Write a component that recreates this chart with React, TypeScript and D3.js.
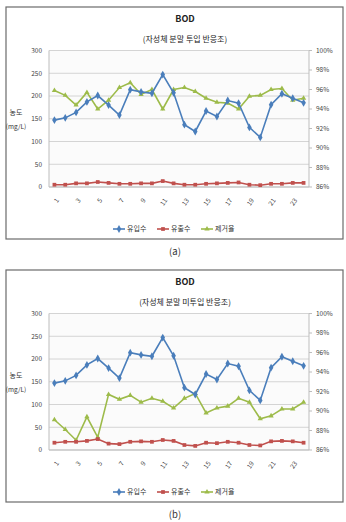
import React, { useEffect, useRef } from 'react';
import * as d3 from 'd3';

// categories (days) and series values
const categories = ['1', '2', '3', '4', '5', '6', '7', '8', '9', '10', '11', '12',
  '13', '14', '15', '16', '17', '18', '19', '20', '21', '22', '23', '24'];
const tickLabels = ['1', '3', '5', '7', '9', '11', '13', '15', '17', '19', '21', '23'];

const influent = [147, 152, 164, 187, 201, 180, 158, 214, 209, 206, 247, 207,
  137, 122, 167, 155, 190, 184, 131, 109, 181, 205, 195, 185];

const effluentA = [5, 5, 8, 8, 11, 9, 7, 7, 8, 8, 13, 8, 5, 5, 7, 8, 9, 10, 5, 4, 7, 7, 9, 9];
const removalA = [95.9, 95.4, 94.4, 95.7, 94.0, 94.9, 96.2, 96.7, 95.5, 96.0, 94.0, 96.0,
  96.2, 95.8, 95.1, 94.7, 94.6, 94.0, 95.3, 95.4, 96.0, 96.1, 94.9, 95.1];

const effluentB = [16, 18, 18, 20, 24, 14, 13, 18, 19, 18, 22, 20, 11, 9, 16, 15, 18, 16, 11, 10, 19, 20, 19, 16];
const removalB = [89.1, 88.1, 87.0, 89.4, 87.3, 91.7, 91.2, 91.6, 90.9, 91.3, 91.0, 90.3,
  91.3, 91.8, 89.8, 90.3, 90.5, 91.3, 90.9, 89.2, 89.5, 90.2, 90.2, 90.9];

const leftTicks = [0, 50, 100, 150, 200, 250, 300];
const rightTicks = [86, 88, 90, 92, 94, 96, 98, 100];

const seriesNames = ['유입수', '유출수', '제거율'];
const COLORS = ['#4a7ebb', '#c0504d', '#9dbb4a'];

const WIDTH = 346;
const HEIGHT = 522;
const FONT = '"Noto Sans CJK KR", "Noto Sans", sans-serif';

interface Panel {
  top: number;
  subtitle: string;
  caption: string;
  effluent: number[];
  removal: number[];
}

const panels: Panel[] = [
  { top: 7, subtitle: '(자성체 분말 투입 반응조)', caption: '(a)', effluent: effluentA, removal: removalA },
  { top: 270, subtitle: '(자성체 분말 미투입 반응조)', caption: '(b)', effluent: effluentB, removal: removalB },
];

const BOX = { left: 6, right: 343, height: 232 };
const PLOT = { left: 49, right: 309, top: 43.5, bottom: 180 };

const App: React.FC = () => {
  const svgRef = useRef<SVGSVGElement>(null);

  useEffect(() => {
    const svg = d3.select(svgRef.current);
    svg.selectAll('*').remove();

    panels.forEach(p => {
      const g = svg.append('g').attr('transform', `translate(0,${p.top})`);

      // frame
      g.append('rect')
        .attr('x', BOX.left)
        .attr('y', 0)
        .attr('width', BOX.right - BOX.left)
        .attr('height', BOX.height)
        .attr('fill', 'white')
        .attr('stroke', '#6b6b6b')
        .attr('stroke-width', 1.2);

      // titles
      g.append('text')
        .attr('x', 185).attr('y', 15)
        .attr('text-anchor', 'middle')
        .style('font-family', FONT)
        .style('font-size', '9px')
        .style('font-weight', 'bold')
        .style('fill', '#222')
        .text('BOD');

      g.append('text')
        .attr('x', 185).attr('y', 34.5)
        .attr('text-anchor', 'middle')
        .style('font-family', FONT)
        .style('font-size', '8px')
        .style('fill', '#222')
        .text(p.subtitle);

      const x = d3.scaleBand<string>().domain(categories).range([PLOT.left, PLOT.right]);
      const cx = (d: string) => x(d)! + x.bandwidth() / 2;
      const yL = d3.scaleLinear().domain([0, 300]).range([PLOT.bottom, PLOT.top]);
      const yR = d3.scaleLinear().domain([86, 100]).range([PLOT.bottom, PLOT.top]);

      // plot area
      g.append('rect')
        .attr('x', PLOT.left).attr('y', PLOT.top)
        .attr('width', PLOT.right - PLOT.left)
        .attr('height', PLOT.bottom - PLOT.top)
        .attr('fill', '#fbfbfb');

      // gridlines
      g.selectAll('.grid')
        .data(leftTicks)
        .enter().append('line')
        .attr('x1', PLOT.left).attr('x2', PLOT.right)
        .attr('y1', d => yL(d)).attr('y2', d => yL(d))
        .attr('stroke', '#d4d4d4')
        .attr('stroke-width', 1);

      // axis lines
      g.append('line')
        .attr('x1', PLOT.left).attr('x2', PLOT.left)
        .attr('y1', PLOT.top).attr('y2', PLOT.bottom)
        .attr('stroke', '#bdbdbd');
      g.append('line')
        .attr('x1', PLOT.right).attr('x2', PLOT.right)
        .attr('y1', PLOT.top).attr('y2', PLOT.bottom)
        .attr('stroke', '#bdbdbd');
      g.append('line')
        .attr('x1', PLOT.left).attr('x2', PLOT.right)
        .attr('y1', PLOT.bottom).attr('y2', PLOT.bottom)
        .attr('stroke', '#bdbdbd');

      // left ticks
      g.selectAll('.lt')
        .data(leftTicks)
        .enter().append('text')
        .attr('x', 42)
        .attr('y', d => yL(d))
        .attr('dy', '0.35em')
        .attr('text-anchor', 'end')
        .style('font-family', FONT)
        .style('font-size', '6.5px')
        .style('fill', '#444')
        .text(d => d);

      // right ticks
      g.selectAll('.rtm')
        .data(rightTicks)
        .enter().append('line')
        .attr('x1', PLOT.right).attr('x2', PLOT.right + 3)
        .attr('y1', d => yR(d)).attr('y2', d => yR(d))
        .attr('stroke', '#bdbdbd');
      g.selectAll('.rt')
        .data(rightTicks)
        .enter().append('text')
        .attr('x', 316)
        .attr('y', d => yR(d))
        .attr('dy', '0.35em')
        .style('font-family', FONT)
        .style('font-size', '6.5px')
        .style('fill', '#444')
        .text(d => `${d}%`);

      // y-axis title
      g.append('text')
        .attr('x', 16).attr('y', 108)
        .attr('text-anchor', 'middle')
        .style('font-family', FONT)
        .style('font-size', '7px')
        .style('fill', '#333')
        .text('농도');
      g.append('text')
        .attr('x', 16).attr('y', 122)
        .attr('text-anchor', 'middle')
        .style('font-family', FONT)
        .style('font-size', '6.5px')
        .style('fill', '#333')
        .text('(mg/L)');

      // x tick labels (rotated)
      g.selectAll('.xt')
        .data(tickLabels)
        .enter().append('text')
        .attr('transform', d => `translate(${cx(d) + 3},${PLOT.bottom + 12}) rotate(-55)`)
        .attr('text-anchor', 'end')
        .attr('dy', '0.35em')
        .style('font-family', FONT)
        .style('font-size', '6.5px')
        .style('fill', '#444')
        .text(d => d);

      const seriesData = [
        categories.map((c, i) => ({ c, y: yL(influent[i]) })),
        categories.map((c, i) => ({ c, y: yL(p.effluent[i]) })),
        categories.map((c, i) => ({ c, y: yR(p.removal[i]) })),
      ];
      const symbols = [d3.symbolDiamond, d3.symbolSquare, d3.symbolTriangle];
      const sizes = [18, 14, 12];

      const line = d3.line<{ c: string; y: number }>()
        .x(d => cx(d.c))
        .y(d => d.y);

      // draw green first, then blue, red on top
      [2, 0, 1].forEach(k => {
        g.append('path')
          .datum(seriesData[k])
          .attr('fill', 'none')
          .attr('stroke', COLORS[k])
          .attr('stroke-width', 1.6)
          .attr('d', line);
        g.selectAll(`.m${k}`)
          .data(seriesData[k])
          .enter().append('path')
          .attr('transform', d => `translate(${cx(d.c)},${d.y})`)
          .attr('d', d3.symbol().type(symbols[k]).size(sizes[k])())
          .attr('fill', COLORS[k]);
      });

      // legend
      const legendX = [113, 157, 201];
      const legend = g.selectAll('.legend')
        .data(seriesNames)
        .enter().append('g')
        .attr('transform', (d, i) => `translate(${legendX[i]},222)`);
      legend.append('line')
        .attr('x1', 0).attr('x2', 12)
        .attr('stroke', (d, i) => COLORS[i])
        .attr('stroke-width', 1.6);
      legend.append('path')
        .attr('transform', 'translate(6,0)')
        .attr('d', (d, i) => d3.symbol().type(symbols[i]).size(sizes[i])()!)
        .attr('fill', (d, i) => COLORS[i]);
      legend.append('text')
        .attr('x', 14)
        .attr('dy', '0.35em')
        .style('font-family', FONT)
        .style('font-size', '7px')
        .style('fill', '#333')
        .text(d => d);

      // caption
      svg.append('text')
        .attr('x', 175)
        .attr('y', p.top + BOX.height + 13)
        .attr('dy', '0.35em')
        .attr('text-anchor', 'middle')
        .style('font-family', FONT)
        .style('font-size', '9.5px')
        .style('fill', '#333')
        .text(p.caption);
    });
  }, []);

  return (
    <svg
      ref={svgRef}
      width={WIDTH}
      height={HEIGHT}
      style={{ position: 'absolute', left: 0, top: 0, background: 'white' }}
    />
  );
};

export default App;
